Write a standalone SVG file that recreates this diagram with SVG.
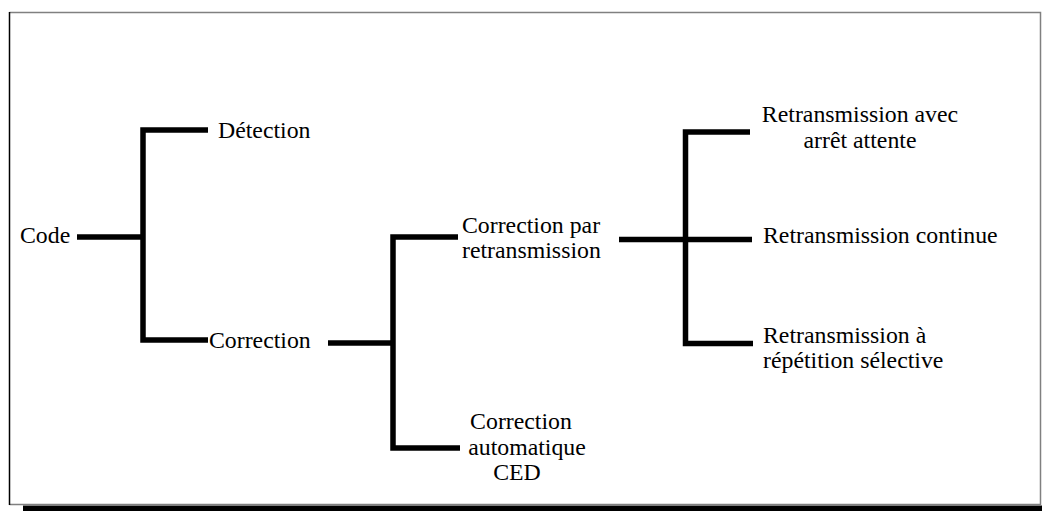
<svg xmlns="http://www.w3.org/2000/svg" width="1042" height="511" viewBox="0 0 1042 511">
  <style>
    .lbl { font-family: "Liberation Serif", "Times New Roman", serif; font-size: 23.8px; fill: #000; }
    .mid { text-anchor: middle; }
    .wire { fill: none; stroke: #000; stroke-width: 5.5; stroke-linejoin: miter; stroke-linecap: butt; }
  </style>
  <rect x="0" y="0" width="1042" height="511" fill="#fff"/>

  <!-- page frame with a drop shadow along the bottom -->
  <g id="frame">
    <rect x="23" y="505.5" width="1019" height="6" fill="#000"/>
    <path d="M9.5 12.5 H1040.5 V504.5 H9.5" fill="none" stroke="#808080" stroke-width="1.5"/>
    <line x1="9.5" y1="12" x2="9.5" y2="505" stroke="#000" stroke-width="1.5"/>
  </g>

  <!-- bracket connectors of the tree -->
  <g id="connectors" class="wire">
    <path d="M77 237 H143"/>
    <path d="M208 130 H143 V340 H208"/>
    <path d="M328 343 H393"/>
    <path d="M458 237 H393 V448 H460"/>
    <path d="M619 239.5 H752"/>
    <path d="M750 132 H685.5 V343.5 H753"/>
  </g>

  <g id="node-code"><text class="lbl" x="20" y="243">Code</text></g>
  <g id="node-detection"><text class="lbl" x="218" y="138">Détection</text></g>
  <g id="node-correction"><text class="lbl" x="209" y="348">Correction</text></g>
  <g id="node-correction-retransmission">
    <text class="lbl" x="462" y="233">Correction par</text>
    <text class="lbl" x="462" y="258">retransmission</text>
  </g>
  <g id="node-correction-ced">
    <text class="lbl mid" x="521" y="429">Correction</text>
    <text class="lbl mid" x="527" y="455">automatique</text>
    <text class="lbl mid" x="517" y="480">CED</text>
  </g>
  <g id="node-arret-attente">
    <text class="lbl mid" x="860" y="122">Retransmission avec</text>
    <text class="lbl mid" x="860" y="148">arrêt attente</text>
  </g>
  <g id="node-continue"><text class="lbl" x="763" y="243">Retransmission continue</text></g>
  <g id="node-selective">
    <text class="lbl" x="763" y="343">Retransmission à</text>
    <text class="lbl" x="763" y="368">répétition sélective</text>
  </g>
</svg>
